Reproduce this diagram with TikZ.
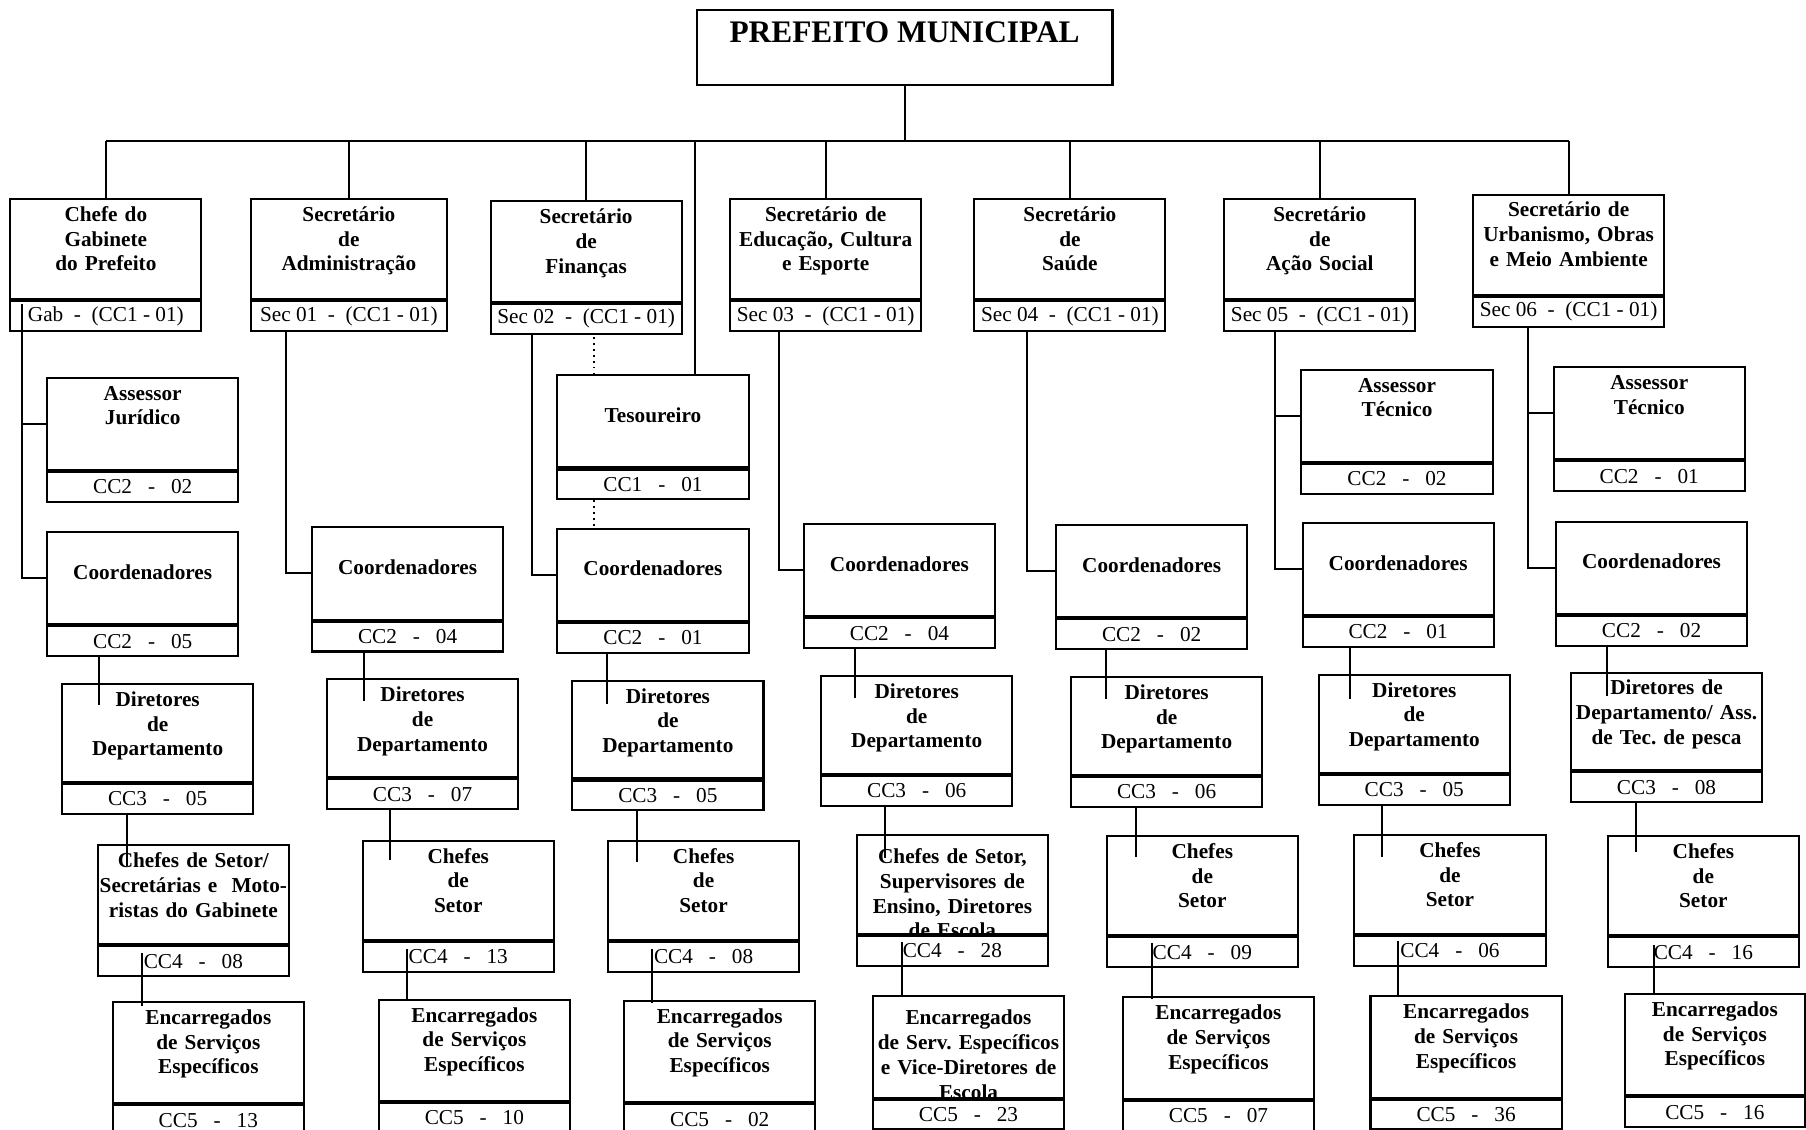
\documentclass[tikz,border=0pt]{standalone}
\usepackage{fontspec}
\setmainfont{Liberation Serif}
\usetikzlibrary{calc}

\newcommand{\titulo}{\fontsize{10.5}{12.2}\selectfont\bfseries}
\newcommand{\codfont}{\fontsize{10.5}{12}\selectfont}

\tikzstyle{prefeito} = [rectangle, draw=black, line width=1pt, anchor=north west, inner sep=0pt, minimum width=72.2mm, text height=5.6mm, text depth=7.4mm, font=\fontsize{15.5}{18}\selectfont\bfseries]
\tikzstyle{cargo} = [rectangle, draw=black, line width=1pt, fill=white, align=center, inner sep=0pt, anchor=north west, minimum width=33.2mm, text width=33.2mm, text height=3.9mm, font=\titulo]
\tikzstyle{secretario} = [cargo, text depth=13.5mm]
\tikzstyle{assessor} = [cargo, text depth=12.1mm]
\tikzstyle{coordenador} = [cargo, text height=8.2mm, text depth=7.8mm]
\tikzstyle{diretor} = [cargo, text depth=13.1mm]
\tikzstyle{chefe} = [cargo, text depth=13.3mm]
\tikzstyle{encarregado} = [cargo, text depth=13.7mm]
\tikzstyle{codigo} = [rectangle, draw=black, line width=1pt, fill=white, inner sep=0pt, anchor=north west, minimum width=33.2mm, minimum height=5.2mm, font=\codfont]
\tikzstyle{linha} = [line width=1pt]
\tikzstyle{pontilhado} = [line width=0.9pt, dotted]

\begin{document}
\begin{tikzpicture}[x=0.2mm, y=-0.2mm]

    \useasboundingbox (0,0) rectangle (1568,981);

    \node (pref) [prefeito] at (604,8) {PREFEITO MUNICIPAL};

    % gabinete
    \node (gab) [secretario] at (8,172) {Chefe do\\Gabinete\\do Prefeito};
    \node (gabc) [codigo] at (gab.south west) {Gab ~-~ (CC1 - 01)};
    \node (assGab) [assessor] at (40,327) {Assessor\\Jurídico};
    \node (assGabc) [codigo] at (assGab.south west) {CC2~~~-~~~02};
    \node (coordGab) [coordenador] at (40,461) {Coordenadores};
    \node (coordGabc) [codigo] at (coordGab.south west) {CC2~~~-~~~05};
    \node (dirGab) [diretor] at (53,593) {Diretores\\de\\Departamento};
    \node (dirGabc) [codigo] at (dirGab.south west) {CC3~~~-~~~05};
    \node (chGab) [chefe] at (84,733) {Chefes de Setor/\\Secretárias e~~Moto-\\ristas do Gabinete};
    \node (chGabc) [codigo] at (chGab.south west) {CC4~~~-~~~08};
    \node (encGab) [encarregado] at (97,869) {Encarregados\\de Serviços\\Específicos};
    \node (encGabc) [codigo] at (encGab.south west) {CC5~~~-~~~13};

    % administracao
    \node (adm) [secretario, minimum width=34mm, text width=34mm] at (217,172) {Secretário\\de\\Administração};
    \node (admc) [codigo, minimum width=34mm] at (adm.south west) {Sec 01 ~-~ (CC1 - 01)};
    \node (coordAdm) [coordenador] at (270,457) {Coordenadores};
    \node (coordAdmc) [codigo] at (coordAdm.south west) {CC2~~~-~~~04};
    \node (dirAdm) [diretor] at (283,589) {Diretores\\de\\Departamento};
    \node (dirAdmc) [codigo] at (dirAdm.south west) {CC3~~~-~~~07};
    \node (chAdm) [chefe] at (314,729) {Chefes\\de\\Setor};
    \node (chAdmc) [codigo] at (chAdm.south west) {CC4~~~-~~~13};
    \node (encAdm) [encarregado] at (328,867) {Encarregados\\de Serviços\\Específicos};
    \node (encAdmc) [codigo] at (encAdm.south west) {CC5~~~-~~~10};

    % financas
    \node (fin) [secretario] at (425,174) {Secretário\\de\\Finanças};
    \node (finc) [codigo] at (fin.south west) {Sec 02 ~-~ (CC1 - 01)};
    \node (tes) [coordenador] at (483,325) {Tesoureiro};
    \node (tesc) [codigo] at (tes.south west) {CC1~~~-~~~01};
    \node (coordFin) [coordenador] at (483,458) {Coordenadores};
    \node (coordFinc) [codigo] at (coordFin.south west) {CC2~~~-~~~01};
    \node (dirFin) [diretor] at (496,590) {Diretores\\de\\Departamento};
    \node (dirFinc) [codigo] at (dirFin.south west) {CC3~~~-~~~05};
    \node (chFin) [chefe] at (527,729) {Chefes\\de\\Setor};
    \node (chFinc) [codigo] at (chFin.south west) {CC4~~~-~~~08};
    \node (encFin) [encarregado] at (541,868) {Encarregados\\de Serviços\\Específicos};
    \node (encFinc) [codigo] at (encFin.south west) {CC5~~~-~~~02};

    % educacao
    \node (edu) [secretario] at (633,172) {Secretário de\\Educação, Cultura\\e Esporte};
    \node (educ) [codigo] at (edu.south west) {Sec 03 ~-~ (CC1 - 01)};
    \node (coordEdu) [coordenador] at (697,454) {Coordenadores};
    \node (coordEduc) [codigo] at (coordEdu.south west) {CC2~~~-~~~04};
    \node (dirEdu) [diretor] at (712,586) {Diretores\\de\\Departamento};
    \node (dirEduc) [codigo] at (dirEdu.south west) {CC3~~~-~~~06};
    \node (chEdu) [chefe, text height=5mm, text depth=12.2mm] at (743,724) {Chefes de Setor,\\Supervisores de\\Ensino, Diretores\\de Escola};
    \node (chEduc) [codigo] at (chEdu.south west) {CC4~~~-~~~28};
    \node (encEdu) [encarregado, text height=5mm, text depth=12.6mm] at (757,864) {Encarregados\\de Serv.\ Específicos\\e Vice-Diretores de\\Escola};
    \node (encEduc) [codigo] at (encEdu.south west) {CC5~~~-~~~23};

    % saude
    \node (sau) [secretario] at (845,172) {Secretário\\de\\Saúde};
    \node (sauc) [codigo] at (sau.south west) {Sec 04 ~-~ (CC1 - 01)};
    \node (coordSau) [coordenador] at (916,455) {Coordenadores};
    \node (coordSauc) [codigo] at (coordSau.south west) {CC2~~~-~~~02};
    \node (dirSau) [diretor] at (929,587) {Diretores\\de\\Departamento};
    \node (dirSauc) [codigo] at (dirSau.south west) {CC3~~~-~~~06};
    \node (chSau) [chefe] at (960,725) {Chefes\\de\\Setor};
    \node (chSauc) [codigo] at (chSau.south west) {CC4~~~-~~~09};
    \node (encSau) [encarregado] at (974,865) {Encarregados\\de Serviços\\Específicos};
    \node (encSauc) [codigo] at (encSau.south west) {CC5~~~-~~~07};

    % acao social
    \node (soc) [secretario] at (1062,172) {Secretário\\de\\Ação Social};
    \node (socc) [codigo] at (soc.south west) {Sec 05 ~-~ (CC1 - 01)};
    \node (assSoc) [assessor] at (1129,320) {Assessor\\Técnico};
    \node (assSocc) [codigo] at (assSoc.south west) {CC2~~~-~~~02};
    \node (coordSoc) [coordenador] at (1130,453) {Coordenadores};
    \node (coordSocc) [codigo] at (coordSoc.south west) {CC2~~~-~~~01};
    \node (dirSoc) [diretor] at (1144,585) {Diretores\\de\\Departamento};
    \node (dirSocc) [codigo] at (dirSoc.south west) {CC3~~~-~~~05};
    \node (chSoc) [chefe] at (1175,724) {Chefes\\de\\Setor};
    \node (chSocc) [codigo] at (chSoc.south west) {CC4~~~-~~~06};
    \node (encSoc) [encarregado] at (1189,864) {Encarregados\\de Serviços\\Específicos};
    \node (encSocc) [codigo] at (encSoc.south west) {CC5~~~-~~~36};

    % urbanismo
    \node (urb) [secretario] at (1278,168) {Secretário de\\Urbanismo, Obras\\e Meio Ambiente};
    \node (urbc) [codigo] at (urb.south west) {Sec 06 ~-~ (CC1 - 01)};
    \node (assUrb) [assessor] at (1348,318) {Assessor\\Técnico};
    \node (assUrbc) [codigo] at (assUrb.south west) {CC2~~~-~~~01};
    \node (coordUrb) [coordenador] at (1350,452) {Coordenadores};
    \node (coordUrbc) [codigo] at (coordUrb.south west) {CC2~~~-~~~02};
    \node (dirUrb) [diretor] at (1363,583) {Diretores de\\Departamento/ Ass.\\de Tec.\ de pesca};
    \node (dirUrbc) [codigo] at (dirUrb.south west) {CC3~~~-~~~08};
    \node (chUrb) [chefe] at (1395,725) {Chefes\\de\\Setor};
    \node (chUrbc) [codigo] at (chUrb.south west) {CC4~~~-~~~16};
    \node (encUrb) [encarregado, minimum width=31.2mm, text width=31.2mm] at (1410,862) {Encarregados\\de Serviços\\Específicos};
    \node (encUrbc) [codigo, minimum width=31.2mm] at (encUrb.south west) {CC5~~~-~~~16};

    % barramento
    \draw [linha] (pref.south) -- ++(0,48) coordinate (bus);
    \draw [linha] (gab.north |- bus) -- (urb.north |- bus);
    \draw [linha] (gab.north) -- (gab.north |- bus);
    \draw [linha] (adm.north) -- (adm.north |- bus);
    \draw [linha] (fin.north) -- (fin.north |- bus);
    \draw [linha] (edu.north) -- (edu.north |- bus);
    \draw [linha] (sau.north) -- (sau.north |- bus);
    \draw [linha] (soc.north) -- (soc.north |- bus);
    \draw [linha] (urb.north) -- (urb.north |- bus);
    \draw [linha] ($(tes.north east)+(-47,0)$) coordinate (t1) -- (t1 |- bus);

    % ligacoes laterais
    \draw [linha] ($(gabc.north west)+(11,3)$) coordinate (g1) |- (coordGab.west);
    \draw [linha] (g1 |- assGab.west) -- (assGab.west);
    \draw [linha] ($(admc.south west)+(31,0)$) |- (coordAdm.west);
    \draw [linha] ($(finc.south west)+(37,0)$) |- (coordFin.west);
    \draw [pontilhado] ($(tes.north west)+(33,0)$) coordinate (t2) -- (t2 |- finc.south);
    \draw [pontilhado] (t2 |- tesc.south) -- (t2 |- coordFin.north);
    \draw [linha] ($(educ.south west)+(43,0)$) |- (coordEdu.west);
    \draw [linha] ($(sauc.south west)+(47,0)$) |- (coordSau.west);
    \draw [linha] ($(socc.south west)+(45,0)$) coordinate (s1) |- (coordSoc.west);
    \draw [linha] (s1 |- assSoc.west) -- (assSoc.west);
    \draw [linha] ($(urbc.south west)+(49,0)$) coordinate (u1) |- (coordUrb.west);
    \draw [linha] (u1 |- assUrb.west) -- (assUrb.west);

    % coordenadores -> diretores -> chefes -> encarregados
    \draw [linha] ($(coordGabc.south west)+(46,0)$) coordinate (a) -- (a |- dirGab.north) -- ++(0,19);
    \draw [linha] ($(dirGabc.south west)+(57,0)$) coordinate (a) -- (a |- chGab.north) -- ++(0,19);
    \draw [linha] ($(chGabc.north west)+(39,7)$) coordinate (a) -- (a |- encGab.north) -- ++(0,4);

    \draw [linha] ($(coordAdmc.south west)+(46,0)$) coordinate (a) -- (a |- dirAdm.north) -- ++(0,20);
    \draw [linha] ($(dirAdmc.south west)+(56,0)$) coordinate (a) -- (a |- chAdm.north) -- ++(0,18);
    \draw [linha] ($(chAdmc.north west)+(39,7)$) coordinate (a) -- (a |- encAdm.north) -- ++(0,2);

    \draw [linha] ($(coordFinc.south west)+(44,0)$) coordinate (a) -- (a |- dirFin.north) -- ++(0,21);
    \draw [linha] ($(dirFinc.south west)+(57,0)$) coordinate (a) -- (a |- chFin.north) -- ++(0,19);
    \draw [linha] ($(chFinc.north west)+(39,7)$) coordinate (a) -- (a |- encFin.north) -- ++(0,3);

    \draw [linha] ($(coordEduc.south west)+(45,0)$) coordinate (a) -- (a |- dirEdu.north) -- ++(0,20);
    \draw [linha] ($(dirEduc.south west)+(56,0)$) coordinate (a) -- (a |- chEdu.north) -- ++(0,21);
    \draw [linha] ($(chEduc.north west)+(40,6)$) coordinate (a) -- (a |- encEdu.north) -- ++(0,2);

    \draw [linha] ($(coordSauc.south west)+(44,0)$) coordinate (a) -- (a |- dirSau.north) -- ++(0,20);
    \draw [linha] ($(dirSauc.south west)+(57,0)$) coordinate (a) -- (a |- chSau.north) -- ++(0,19);
    \draw [linha] ($(chSauc.north west)+(40,6)$) coordinate (a) -- (a |- encSau.north) -- ++(0,2);

    \draw [linha] ($(coordSocc.south west)+(42,0)$) coordinate (a) -- (a |- dirSoc.north) -- ++(0,22);
    \draw [linha] ($(dirSocc.south west)+(56,0)$) coordinate (a) -- (a |- chSoc.north) -- ++(0,20);
    \draw [linha] ($(chSocc.north west)+(39,5)$) coordinate (a) -- (a |- encSoc.north) -- ++(0,2);

    \draw [linha] ($(coordUrbc.south west)+(45,0)$) coordinate (a) -- (a |- dirUrb.north) -- ++(0,21);
    \draw [linha] ($(dirUrbc.south west)+(57,0)$) coordinate (a) -- (a |- chUrb.north) -- ++(0,15);
    \draw [linha] ($(chUrbc.north west)+(41,8)$) coordinate (a) -- (a |- encUrb.north) -- ++(0,2);

\end{tikzpicture}
\end{document}
